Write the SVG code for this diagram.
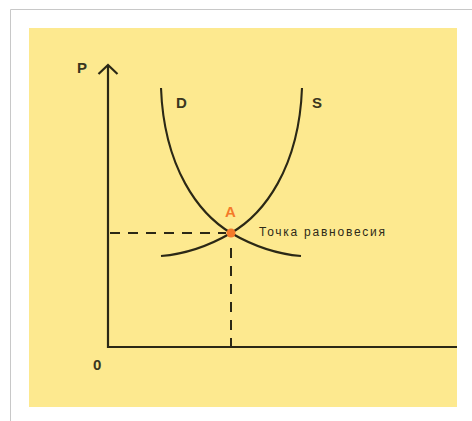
<svg xmlns="http://www.w3.org/2000/svg" width="472" height="421" viewBox="0 0 472 421">
<style>
.ax{stroke:#2b2816;stroke-width:2.2;fill:none}
.cv{stroke:#2b2816;stroke-width:2.1;fill:none}
.ds{stroke:#2b2816;stroke-width:2;fill:none;stroke-dasharray:10 8}
.lb{font-family:"Liberation Sans",Arial,sans-serif;font-weight:bold;font-size:15px;fill:#3a3620}
.sm{font-family:"Liberation Sans",Arial,sans-serif;font-size:12px;fill:#2e2a18}
</style>
<rect x="0" y="0" width="472" height="421" fill="#ffffff"/>
<path d="M10.5,421 V9.5 H472" fill="none" stroke="#c8c8c8" stroke-width="1"/>
<rect x="29" y="28" width="428" height="379" fill="#fde98f"/>
<g id="axes">
<path class="ax" d="M108,66 V347 H457"/>
<path class="ax" d="M98.5,74 L108,65 L117.5,74"/>
<text class="lb" x="77" y="73">P</text>
<text class="lb" x="93" y="370">0</text>
</g>
<g id="connectors">
<path class="ds" d="M110,233 H226"/>
<path class="ds" d="M231,248 V347"/>
</g>
<g id="demand">
<path class="cv" d="M161,88 C164,168 199,214 231,233 C255,247 276,254 301,256"/>
<text class="lb" x="176" y="108">D</text>
</g>
<g id="supply">
<path class="cv" d="M302,88 C299,168 264,214 231,233 C207,247 186,254 161,256"/>
<text class="lb" x="312" y="108">S</text>
</g>
<g id="pointA">
<circle cx="231" cy="233" r="4.5" fill="#f47a2a"/>
<text class="lb" x="225" y="217" style="fill:#f47a2a">A</text>
<text class="sm" x="259" y="236" textLength="126">Точка равновесия</text>
</g>
</svg>
